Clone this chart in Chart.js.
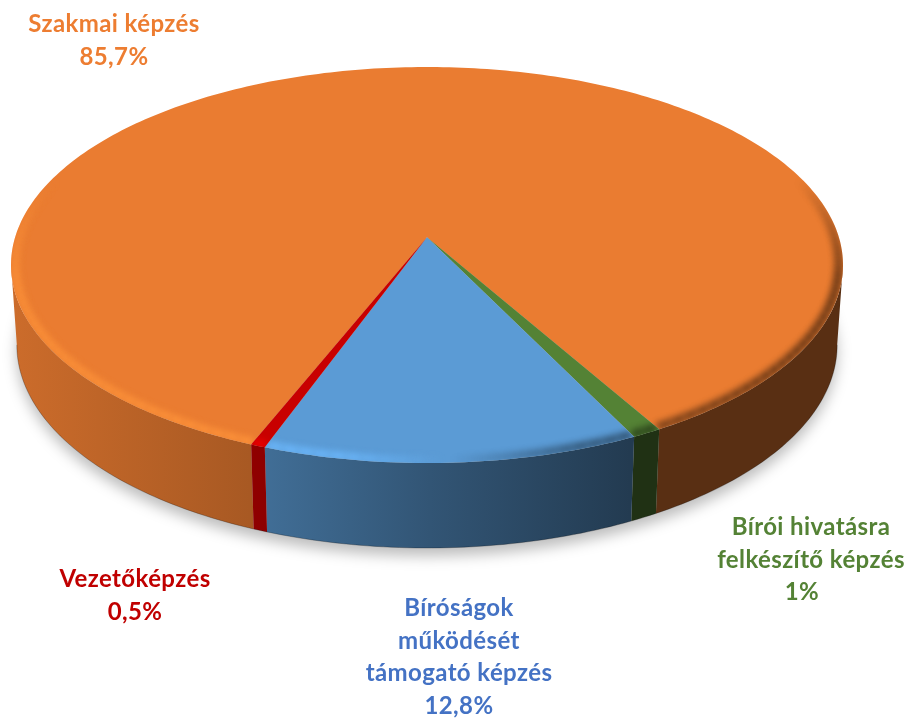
<!DOCTYPE html>
<html lang="hu">
<head>
<meta charset="utf-8">
<title>Képzések megoszlása</title>
<script src="https://cdn.jsdelivr.net/npm/chart.js@4/dist/chart.umd.js"></script>
<style>
  html, body { margin: 0; background: #fff; }
  #wrap { position: relative; width: 907px; height: 718px; overflow: hidden; }
  #pie { position: absolute; left: 0; top: 0; }
  .lbl {
    position: absolute;
    transform: translateX(-50%);
    text-align: center;
    white-space: nowrap;
    font: bold 24px/32.5px Lato, sans-serif;
    letter-spacing: 0.4px;
  }
  .lbl span { position: relative; }
</style>
</head>
<body>
<div id="wrap"><canvas id="pie" width="907" height="718"></canvas></div>
<script>
// order is clockwise from the orange slice
const categories = ["Szakmai képzés", "Bírói hivatásra felkészítő képzés", "Bíróságok működését támogató képzés", "Vezetőképzés"];
const shares = [85.7, 1, 12.8, 0.5];
const shareLabels = ["85,7%", "1%", "12,8%", "0,5%"];
const labelLines = [
  ["Szakmai képzés"],
  ["Bírói hivatásra", "felkészítő képzés"],
  ["Bíróságok", "működését", "támogató képzés"],
  ["Vezetőképzés"]
];
const sliceColours = ["#EA7C31", "#548235", "#5B9BD5", "#C80000"];
const textColours = ["#ED7D31", "#548235", "#4472C4", "#C00000"];

// label anchors, centre x / top y, then how far the percentage sits off centre
const labelPos = [[114, 7], [811, 510], [459, 591], [135, 562]];
const shareNudge = [0, -9, 0, 0];

const RADIUS = 416;
const FIRST_ANGLE = 201.8;
const TILT = 198 / 416;
const APEX = -0.14; // the centre of the disc sits above the middle of the ellipse
const DEPTH = 80;
const BOTTOM_W = 0.986;
const BOTTOM_TILT = 203 / 416;
const WALL_FROM = 98;
const WALL_TO = 262;

// wall brightness going left to right
const wallShade = [[10, 0.87], [250, 0.72], [430, 0.55], [630, 0.38], [843, 0.38]];

function rim(el, deg, r, low) {
  const t = deg * Math.PI / 180;
  const u = r * Math.sin(t);
  const v = -r * Math.cos(t);
  const d = 1 + APEX * v;
  const nx = u * Math.sqrt(1 - APEX * APEX) / d;
  const ny = (v + APEX) / d;
  if (low) return [el.x + el.outerRadius * BOTTOM_W * nx, el.y + DEPTH + el.outerRadius * BOTTOM_TILT * ny];
  return [el.x + el.outerRadius * nx, el.y + el.outerRadius * TILT * ny];
}

function curve(ctx, el, from, to, r, low, first) {
  const n = Math.max(2, Math.ceil(Math.abs(to - from)));
  for (let i = 0; i <= n; i++) {
    const p = rim(el, from + (to - from) * i / n, r, low);
    if (i === 0 && first) ctx.moveTo(p[0], p[1]);
    else ctx.lineTo(p[0], p[1]);
  }
}

function overlap(s, e, a, b) {
  const out = [];
  [-360, 0, 360].forEach(k => {
    const lo = Math.max(s, a + k);
    const hi = Math.min(e, b + k);
    if (hi > lo) out.push([lo, hi]);
  });
  return out;
}

function rgbOf(hex, f) {
  const n = parseInt(hex.slice(1), 16);
  return [n >> 16, (n >> 8) & 255, n & 255].map(x => Math.min(255, Math.round(x * f)));
}

function wallFill(ctx, colour) {
  const g = ctx.createLinearGradient(10, 0, 843, 0);
  wallShade.forEach(s => g.addColorStop((s[0] - 10) / 833, `rgb(${rgbOf(colour, s[1]).join(",")})`));
  return g;
}

// lighter rim on the left, shadowed rim on the right
function bevelStroke(ctx, colour) {
  const c = rgbOf(colour, 1.2).join(",");
  const g = ctx.createLinearGradient(10, 0, 843, 0);
  g.addColorStop(0, `rgba(${c},0.85)`);
  g.addColorStop(0.4, `rgba(${c},0.85)`);
  g.addColorStop(0.52, `rgba(${c},0)`);
  g.addColorStop(0.53, "rgba(0,0,0,0)");
  g.addColorStop(0.68, "rgba(0,0,0,0.42)");
  g.addColorStop(1, "rgba(0,0,0,0.6)");
  return g;
}

function bevelFade(deg) {
  const a = ((deg % 360) + 360) % 360;
  const edge = Math.min(a - 72, 288 - a) / 30;
  return Math.max(0, Math.min(1, edge));
}

// each arc draws its own wall and top face, seen from above
Chart.ArcElement.prototype.draw = function (ctx) {
  const el = this.getProps(["x", "y", "startAngle", "endAngle", "outerRadius"]);
  const s = el.startAngle * 180 / Math.PI + 90;
  const e = el.endAngle * 180 / Math.PI + 90;
  const colour = this.options.backgroundColor;

  overlap(s, e, WALL_FROM, WALL_TO).forEach(r => {
    ctx.beginPath();
    curve(ctx, el, r[0], r[1], 1, false, true);
    curve(ctx, el, r[1], r[0], 1, true, false);
    ctx.closePath();
    ctx.fillStyle = wallFill(ctx, colour);
    ctx.fill();
    // thin dark line along the foot of the wall
    ctx.beginPath();
    curve(ctx, el, r[0], r[1], 1, true, true);
    ctx.strokeStyle = "rgba(0,0,0,0.25)";
    ctx.lineWidth = 1;
    ctx.stroke();
  });

  ctx.beginPath();
  const c = rim(el, 0, 0, false);
  ctx.moveTo(c[0], c[1]);
  curve(ctx, el, s, e, 1, false, false);
  ctx.closePath();
  ctx.fillStyle = colour;
  ctx.fill();

  ctx.save();
  ctx.clip();
  ctx.filter = "blur(3px)";
  ctx.strokeStyle = bevelStroke(ctx, colour);
  ctx.lineWidth = 8;
  overlap(s, e, 72, 288).forEach(r => {
    for (let a = r[0]; a < r[1]; a += 2) {
      ctx.globalAlpha = bevelFade(a + 1);
      ctx.beginPath();
      curve(ctx, el, a, Math.min(a + 2, r[1]), 0.99, false, true);
      ctx.stroke();
    }
  });
  ctx.restore();
};

const groundShadow = {
  id: "groundShadow",
  beforeDatasetsDraw(chart) {
    const arc = chart.getDatasetMeta(0).data[0];
    if (!arc) return;
    const ctx = chart.ctx;
    ctx.save();
    ctx.filter = "blur(7px)";
    ctx.translate(0, 8);
    ctx.beginPath();
    curve(ctx, arc, 0, 360, 1, true, true);
    ctx.closePath();
    ctx.fillStyle = "rgba(0,0,0,0.26)";
    ctx.fill();
    ctx.restore();
  }
};

new Chart(document.getElementById("pie"), {
  type: "pie",
  data: {
    labels: categories,
    datasets: [{
      data: shares,
      backgroundColor: sliceColours,
      borderWidth: 0,
      clip: false
    }]
  },
  options: {
    responsive: false,
    animation: false,
    rotation: FIRST_ANGLE,
    radius: RADIUS,
    layout: { padding: { left: 0, right: 53, top: 0, bottom: 188 } },
    events: [],
    plugins: { legend: { display: false }, tooltip: { enabled: false } }
  },
  plugins: [groundShadow]
});

const wrap = document.getElementById("wrap");
categories.forEach((c, i) => {
  const d = document.createElement("div");
  d.className = "lbl";
  d.style.left = labelPos[i][0] + "px";
  d.style.top = labelPos[i][1] + "px";
  d.style.color = textColours[i];
  const share = `<span style="left:${shareNudge[i]}px">${shareLabels[i]}</span>`;
  d.innerHTML = labelLines[i].concat(share).join("<br>");
  wrap.appendChild(d);
});
</script>
</body>
</html>
